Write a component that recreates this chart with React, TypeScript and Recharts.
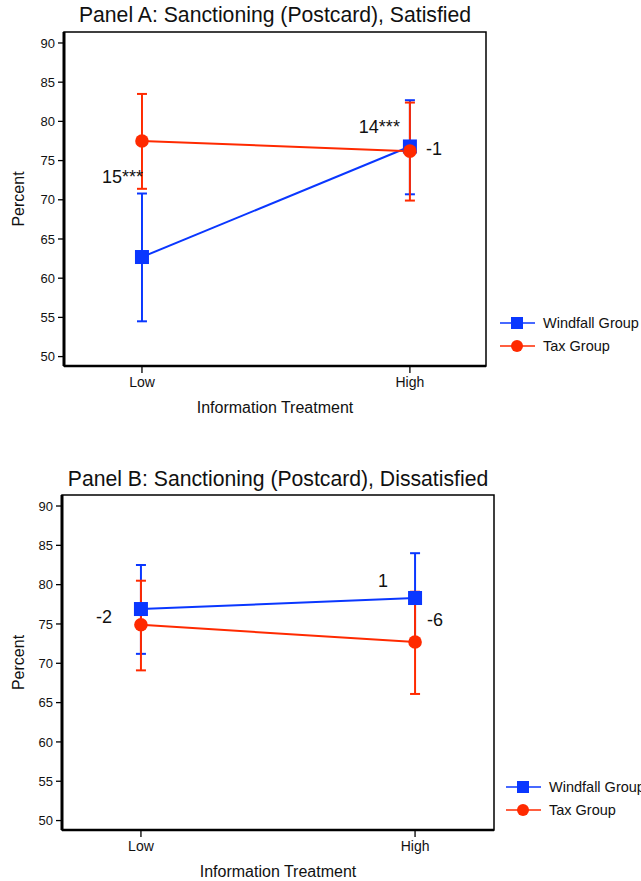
import React from 'react';
import {
  ComposedChart,
  Line,
  XAxis,
  YAxis,
  ErrorBar,
  ReferenceArea,
  ReferenceDot,
  Label,
} from 'recharts';

const FONT = '"Liberation Sans", Arial, Helvetica, sans-serif';

// ---------- shared data ----------
const categories = ['Low', 'High'];
const yTicks = [50, 55, 60, 65, 70, 75, 80, 85, 90];
const seriesNames = ['Windfall Group', 'Tax Group'];
const xAxisTitle = 'Information Treatment';
const yAxisTitle = 'Percent';

// ---------- Panel A ----------
const titleA = 'Panel A: Sanctioning (Postcard), Satisfied';
const windfallA = [62.7, 76.8];
const windfallLowA = [54.5, 70.7];
const windfallHighA = [70.8, 82.7];
const taxA = [77.5, 76.2];
const taxLowA = [71.4, 69.9];
const taxHighA = [83.5, 82.4];
const notesA = ['15***', '14***', '-1'];

// ---------- Panel B ----------
const titleB = 'Panel B: Sanctioning (Postcard), Dissatisfied';
const windfallB = [76.9, 78.3];
const windfallLowB = [71.2, 72.6];
const windfallHighB = [82.5, 84.0];
const taxB = [74.9, 72.7];
const taxLowB = [69.1, 66.1];
const taxHighB = [80.5, 79.1];
const notesB = ['-2', '1', '-6'];

// ---------- styling ----------
const BLUE = '#0a37ff';
const RED = '#ff2a00';
const Y_DOMAIN: [number, number] = [48.8, 91.4];

const buildRows = (
  w: number[],
  wl: number[],
  wh: number[],
  t: number[],
  tl: number[],
  th: number[]
) =>
  categories.map((c, i) => ({
    x: i,
    cat: c,
    windfall: w[i],
    windfallErr: [w[i] - wl[i], wh[i] - w[i]],
    tax: t[i],
    taxErr: [t[i] - tl[i], th[i] - t[i]],
  }));

const rowsA = buildRows(windfallA, windfallLowA, windfallHighA, taxA, taxLowA, taxHighA);
const rowsB = buildRows(windfallB, windfallLowB, windfallHighB, taxB, taxLowB, taxHighB);

const SquareDot = (props: any) => {
  const { cx, cy } = props;
  if (cx == null || cy == null) return null;
  return <rect x={cx - 7} y={cy - 7} width={14} height={14} fill={BLUE} />;
};

const CircleDot = (props: any) => {
  const { cx, cy } = props;
  if (cx == null || cy == null) return null;
  return <circle cx={cx} cy={cy} r={6.8} fill={RED} />;
};

const NoteLabel = (props: any) => {
  const vb = props.viewBox || {};
  const cx = (vb.x ?? 0) + (vb.width ?? 0) / 2;
  const cy = (vb.y ?? 0) + (vb.height ?? 0) / 2;
  return (
    <text
      x={cx + props.dx}
      y={cy}
      dy="0.36em"
      textAnchor={props.anchor}
      fontSize={18}
      fontFamily={FONT}
      fill="#111"
    >
      {props.text}
    </text>
  );
};

const LegendBox = ({ left, top }: { left: number; top: number }) => (
  <div
    style={{
      position: 'absolute',
      left,
      top,
      fontFamily: FONT,
      fontSize: 14.5,
      color: '#111',
      zIndex: 2,
    }}
  >
    {seriesNames.map((name, i) => (
      <div
        key={name}
        style={{ display: 'flex', alignItems: 'center', height: 22.7, whiteSpace: 'nowrap' }}
      >
        <svg width={35} height={16} style={{ display: 'block' }}>
          <line x1={0} y1={8} x2={35} y2={8} stroke={i === 0 ? BLUE : RED} strokeWidth={1.6} />
          {i === 0 ? (
            <rect x={11} y={2} width={12} height={12} fill={BLUE} />
          ) : (
            <circle cx={17} cy={8} r={6} fill={RED} />
          )}
        </svg>
        <span style={{ marginLeft: 8 }}>{name}</span>
      </div>
    ))}
  </div>
);

type NotePlace = { x: number; y: number; anchor: 'start' | 'end'; dx: number };

type PanelProps = {
  title: string;
  rows: any[];
  notes: string[];
  top: number;
  height: number;
  yAxisWidth: number;
  marginRight: number;
  marginBottom: number;
  xDomain: [number, number];
  titleBaseline: number;
  legendLeft: number;
  legendTop: number;
  places: NotePlace[];
};

const Panel = (p: PanelProps) => {
  const plotWidth = 641 - p.yAxisWidth - p.marginRight;
  return (
    <div style={{ position: 'absolute', left: 0, top: p.top, width: 641, height: p.height }}>
      <div
        style={{
          position: 'absolute',
          left: p.yAxisWidth - 20,
          width: plotWidth + 40,
          top: p.titleBaseline - 18,
          fontFamily: FONT,
          fontSize: 21.2,
          lineHeight: '21.2px',
          textAlign: 'center',
          color: '#111',
          whiteSpace: 'nowrap',
          zIndex: 2,
        }}
      >
        {p.title}
      </div>
      <ComposedChart
        width={641}
        height={p.height}
        data={p.rows}
        margin={{ top: 32, right: p.marginRight, bottom: p.marginBottom, left: 0 }}
      >
        <ReferenceArea
          x1={p.xDomain[0]}
          x2={p.xDomain[1]}
          y1={Y_DOMAIN[0]}
          y2={Y_DOMAIN[1]}
          fill="none"
          stroke="#000"
          strokeWidth={1.5}
          ifOverflow="visible"
        />
        <XAxis
          type="number"
          dataKey="x"
          domain={p.xDomain}
          allowDataOverflow
          ticks={[0, 1]}
          interval={0}
          tickFormatter={(v: number) => categories[v]}
          height={50}
          tickSize={7}
          tickMargin={4}
          axisLine={{ stroke: '#000', strokeWidth: 2.5 }}
          tickLine={{ stroke: '#000', strokeWidth: 1.3 }}
          tick={{ fontSize: 14, fill: '#111', fontFamily: FONT }}
        >
          <Label
            value={xAxisTitle}
            position="insideBottom"
            offset={3}
            style={{ fontSize: 16, fill: '#111', fontFamily: FONT }}
          />
        </XAxis>
        <YAxis
          type="number"
          domain={Y_DOMAIN}
          allowDataOverflow
          ticks={yTicks}
          interval={0}
          width={p.yAxisWidth}
          tickSize={6}
          tickMargin={3}
          axisLine={{ stroke: '#000', strokeWidth: 3 }}
          tickLine={{ stroke: '#000', strokeWidth: 1.3 }}
          tick={{ fontSize: 13, fill: '#111', fontFamily: FONT }}
        >
          <Label
            value={yAxisTitle}
            angle={-90}
            position="insideLeft"
            offset={18}
            style={{ fontSize: 16, fill: '#111', fontFamily: FONT, textAnchor: 'middle' }}
          />
        </YAxis>
        <Line
          dataKey="windfall"
          name={seriesNames[0]}
          stroke={BLUE}
          strokeWidth={2}
          dot={<SquareDot />}
          activeDot={false}
          isAnimationActive={false}
        >
          <ErrorBar dataKey="windfallErr" direction="y" width={5} stroke={BLUE} strokeWidth={2} />
        </Line>
        <Line
          dataKey="tax"
          name={seriesNames[1]}
          stroke={RED}
          strokeWidth={2}
          dot={<CircleDot />}
          activeDot={false}
          isAnimationActive={false}
        >
          <ErrorBar dataKey="taxErr" direction="y" width={5} stroke={RED} strokeWidth={2} />
        </Line>
        {p.places.map((pl, i) => (
          <ReferenceDot
            key={'note' + i}
            x={pl.x}
            y={pl.y}
            r={0}
            fill="none"
            stroke="none"
            ifOverflow="visible"
            label={<NoteLabel text={p.notes[i]} anchor={pl.anchor} dx={pl.dx} />}
          />
        ))}
      </ComposedChart>
      <LegendBox left={p.legendLeft} top={p.legendTop} />
    </div>
  );
};

export default function App() {
  return (
    <div
      style={{
        position: 'absolute',
        left: 0,
        top: 0,
        width: 641,
        height: 881,
        overflow: 'hidden',
        background: '#fff',
      }}
    >
      <Panel
        title={titleA}
        rows={rowsA}
        notes={notesA}
        top={0}
        height={440}
        yAxisWidth={64}
        marginRight={155}
        marginBottom={24}
        xDomain={[-0.291, 1.284]}
        titleBaseline={21.7}
        legendLeft={500}
        legendTop={312}
        places={[
          { x: 0, y: 72.95, anchor: 'end', dx: 1 },
          { x: 1, y: 79.3, anchor: 'end', dx: -10 },
          { x: 1, y: 76.5, anchor: 'start', dx: 16 },
        ]}
      />
      <Panel
        title={titleB}
        rows={rowsB}
        notes={notesB}
        top={463}
        height={418}
        yAxisWidth={62}
        marginRight={147}
        marginBottom={1}
        xDomain={[-0.288, 1.288]}
        titleBaseline={23}
        legendLeft={506}
        legendTop={312.5}
        places={[
          { x: 0, y: 75.9, anchor: 'end', dx: -29 },
          { x: 1, y: 80.5, anchor: 'end', dx: -27 },
          { x: 1, y: 75.6, anchor: 'start', dx: 12 },
        ]}
      />
    </div>
  );
}
